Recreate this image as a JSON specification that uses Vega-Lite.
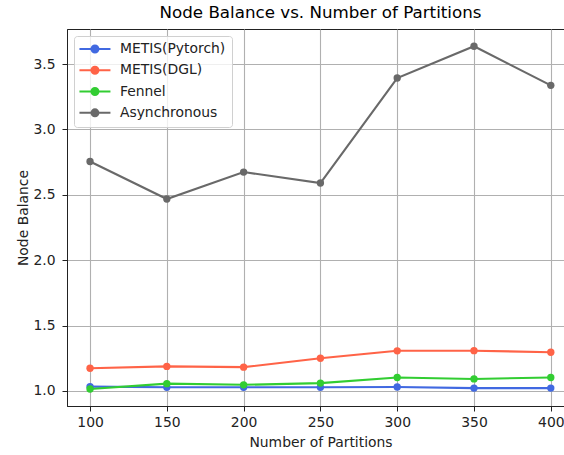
{
  "$schema": "https://vega.github.io/schema/vega-lite/v6.json",
  "width": 497,
  "height": 377,
  "autosize": {"type": "none"},
  "padding": {"left": 67, "top": 29, "right": 0, "bottom": 49},
  "background": "white",
  "title": {"text": "Node Balance vs. Number of Partitions", "fontSize": 16.7, "font": "DejaVu Sans", "fontWeight": "normal", "color": "#000", "offset": 7, "dx": 5},
  "data": {"values": [
    {"p": 100, "method": "METIS(Pytorch)", "v": 1.033},
    {"p": 150, "method": "METIS(Pytorch)", "v": 1.028},
    {"p": 200, "method": "METIS(Pytorch)", "v": 1.028},
    {"p": 250, "method": "METIS(Pytorch)", "v": 1.028},
    {"p": 300, "method": "METIS(Pytorch)", "v": 1.03},
    {"p": 350, "method": "METIS(Pytorch)", "v": 1.022},
    {"p": 400, "method": "METIS(Pytorch)", "v": 1.022},
    {"p": 100, "method": "METIS(DGL)", "v": 1.174},
    {"p": 150, "method": "METIS(DGL)", "v": 1.188},
    {"p": 200, "method": "METIS(DGL)", "v": 1.182},
    {"p": 250, "method": "METIS(DGL)", "v": 1.25},
    {"p": 300, "method": "METIS(DGL)", "v": 1.307},
    {"p": 350, "method": "METIS(DGL)", "v": 1.308},
    {"p": 400, "method": "METIS(DGL)", "v": 1.296},
    {"p": 100, "method": "Fennel", "v": 1.015},
    {"p": 150, "method": "Fennel", "v": 1.056},
    {"p": 200, "method": "Fennel", "v": 1.047},
    {"p": 250, "method": "Fennel", "v": 1.06},
    {"p": 300, "method": "Fennel", "v": 1.103},
    {"p": 350, "method": "Fennel", "v": 1.092},
    {"p": 400, "method": "Fennel", "v": 1.103},
    {"p": 100, "method": "Asynchronous", "v": 2.755},
    {"p": 150, "method": "Asynchronous", "v": 2.468},
    {"p": 200, "method": "Asynchronous", "v": 2.674},
    {"p": 250, "method": "Asynchronous", "v": 2.59},
    {"p": 300, "method": "Asynchronous", "v": 3.393},
    {"p": 350, "method": "Asynchronous", "v": 3.636},
    {"p": 400, "method": "Asynchronous", "v": 3.337}
  ]},
  "encoding": {
    "x": {"field": "p", "type": "quantitative", "scale": {"domain": [85, 408.6], "nice": false, "zero": false},
      "axis": {"values": [100, 150, 200, 250, 300, 350, 400], "title": "Number of Partitions", "titleX": 253.5}},
    "y": {"field": "v", "type": "quantitative", "scale": {"domain": [0.885, 3.768], "nice": false, "zero": false},
      "axis": {"values": [1, 1.5, 2, 2.5, 3, 3.5], "format": ".1f", "title": "Node Balance"}},
    "color": {"field": "method", "type": "nominal",
      "scale": {"domain": ["METIS(Pytorch)", "METIS(DGL)", "Fennel", "Asynchronous"], "range": ["#4169E1", "#FF6347", "#32CD32", "#696969"]},
      "legend": {"title": null,
        "encode": {"symbols": {"update": {"fill": {"scale": "color", "field": "value"}, "stroke": {"scale": "color", "field": "value"}, "strokeWidth": {"value": 2}, "opacity": {"value": 1}}}}}}
  },
  "layer": [
    {"mark": {"type": "line", "strokeWidth": 2.1}},
    {"mark": {"type": "point", "filled": true, "size": 54, "opacity": 1}}
  ],
  "config": {
    "view": {"stroke": "#222", "strokeWidth": 1},
    "axis": {"domainColor": "#222", "tickColor": "#222", "tickSize": 5, "domainWidth": 1, "tickWidth": 1,
      "labelFont": "DejaVu Sans", "labelFontSize": 13.9, "labelColor": "#222", "labelPadding": 4,
      "titleFont": "DejaVu Sans", "titleFontSize": 13.9, "titleFontWeight": "normal", "titleColor": "#222",
      "gridColor": "#b0b0b0", "gridWidth": 1.1, "gridOpacity": 1},
    "axisX": {"titlePadding": 7},
    "axisY": {"labelPadding": 7, "titlePadding": 2},
    "legend": {"orient": "none", "legendX": 7, "legendY": 7, "fillColor": "rgba(255,255,255,0.8)", "strokeColor": "#d0d0d0",
      "cornerRadius": 3, "padding": 6, "labelFont": "DejaVu Sans", "labelFontSize": 13.9, "labelColor": "#222",
      "symbolType": "M-3.1,0H3.1M-0.7,0A0.7,0.7,0,1,0,0.7,0A0.7,0.7,0,1,0,-0.7,0Z", "symbolSize": 100, "symbolStrokeWidth": 2, "symbolOffset": 8, "labelOffset": 18, "rowPadding": 5.3}
  }
}
